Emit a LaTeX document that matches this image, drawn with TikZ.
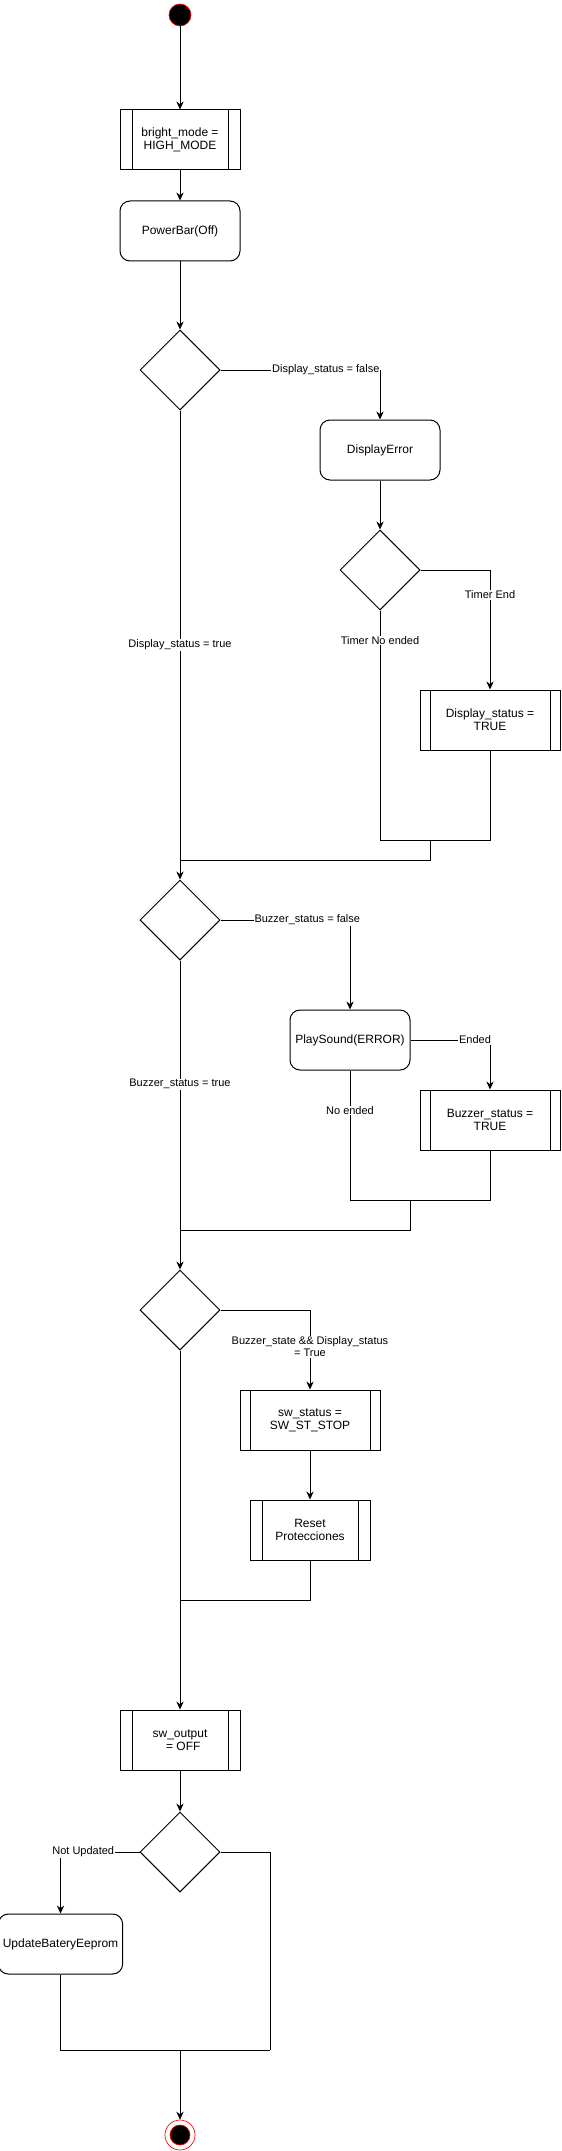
\documentclass[tikz,border=0pt]{standalone}
\usepackage{fontspec}
\setmainfont{Liberation Sans}
\usetikzlibrary{shapes.geometric,arrows.meta}
\begin{document}
\begin{tikzpicture}[x=0.75pt,y=-0.75pt,line width=0.75pt,
 >={Stealth[length=6pt,width=5.5pt]},
 txt/.style={font=\fontsize{9}{10}\selectfont,align=center},
 proc/.style={txt,draw,rounded corners=7.5pt,minimum width=90pt,minimum height=45pt},
 subproc/.style={txt,draw,minimum width=90pt,minimum height=45pt,
  path picture={\draw ([xshift=#1]path picture bounding box.north west)--([xshift=#1]path picture bounding box.south west)
   ([xshift=-#1]path picture bounding box.north east)--([xshift=-#1]path picture bounding box.south east);}},
 subproc/.default=9pt,
 cond/.style={draw,diamond,minimum width=60pt,minimum height=60pt,inner sep=0pt},
 lbl/.style={font=\fontsize{8.25}{9.5}\selectfont,fill=white,inner sep=0.5pt,align=center}]
 \useasboundingbox (0,0) rectangle (561,2151);
 \node[circle,draw=red,fill=black,minimum size=16.5pt,inner sep=0pt,line width=0.5pt] (start) at (180,15) {};
 \node[subproc] (bright) at (180,140) {bright\_mode =\\HIGH\_MODE};
 \node[proc] (power) at (180,231) {PowerBar(Off)};
 \node[cond] (d1) at (180,370) {};
 \node[proc] (derr) at (380,450) {DisplayError};
 \node[cond] (d2) at (380,570) {};
 \node[subproc=7.5pt,minimum width=105pt] (dtrue) at (490,720) {Display\_status =\\TRUE};
 \node[cond] (d3) at (180,920) {};
 \node[proc] (play) at (350,1040) {PlaySound(ERROR)};
 \node[subproc=7.5pt,minimum width=105pt] (btrue) at (490,1120) {Buzzer\_status =\\TRUE};
 \node[cond] (d4) at (180,1310) {};
 \node[subproc=7.5pt,minimum width=105pt] (swst) at (310,1420) {sw\_status =\\SW\_ST\_STOP};
 \node[subproc] (reset) at (310,1530) {Reset\\Protecciones};
 \node[subproc] (swout) at (180,1740) {sw\_output\\\hspace*{5pt}= OFF};
 \node[cond] (d5) at (180,1852) {};
 \node[proc] (upd) at (60.5,1944) {UpdateBateryEeprom};
 \node[circle,draw=red,minimum size=22.5pt,inner sep=0pt,line width=0.5pt] (stop) at (180,2135) {};
 \node[circle,draw=red,fill=black,minimum size=15pt,inner sep=0pt,line width=0.5pt] (stopin) at (stop) {};
 \coordinate (j1) at (430,840);
 \coordinate (j2) at (430,860);
 \coordinate (j3) at (410,1200);
 \coordinate (j4) at (410,1230);
 \coordinate (j5) at (180,1600);
 \coordinate (j6) at (270,2050);
 \coordinate (j7) at (180,2050);
 \draw[->] (start) -- (bright);
 \draw[->] (bright) -- (power);
 \draw[->] (power) -- (d1);
 \draw[->] (d1.east) -| node[lbl,pos=0.33] {Display\_status = false} (derr.north);
 \draw[->] (derr) -- (d2);
 \draw[->] (d2.east) -| node[lbl,pos=0.604] {Timer End} (dtrue.north);
 \draw (d2.south) -- node[lbl,pos=0.13] {Timer No ended} (d2.south |- j1) -- (dtrue.south |- j1) -- (dtrue.south);
 \draw (j1) -- (j2) -- (d1.south |- j2);
 \draw[->] (d1.south) -- node[lbl] {Display\_status = true} (d3.north);
 \draw[->] (d3.east) -| node[lbl,pos=0.335] {Buzzer\_status = false} (play.north);
 \draw[->] (play.east) -| node[lbl,pos=0.406] {Ended} (btrue.north);
 \draw (play.south) -- node[lbl,pos=0.31] {No ended} (play.south |- j3) -- (btrue.south |- j3) -- (btrue.south);
 \draw (j3) -- (j4) -- (d1.south |- j4);
 \draw[->] (d3.south) -- node[lbl,pos=0.4] {Buzzer\_status = true} (d4.north);
 \draw[->] (d4.east) -| node[lbl,pos=0.73] {Buzzer\_state \&\& Display\_status\\= True} (swst.north);
 \draw[->] (swst) -- (reset);
 \draw (reset.south) |- (j5);
 \draw[->] (d4.south) -- (swout.north);
 \draw[->] (swout) -- (d5);
 \draw[->] (d5.west) -| node[lbl,pos=0.356] {Not Updated} (upd.north);
 \draw (d5.east) -| (j6);
 \draw (upd.south) |- (j6);
 \draw[->] (j7) -- (stop);
\end{tikzpicture}
\end{document}
